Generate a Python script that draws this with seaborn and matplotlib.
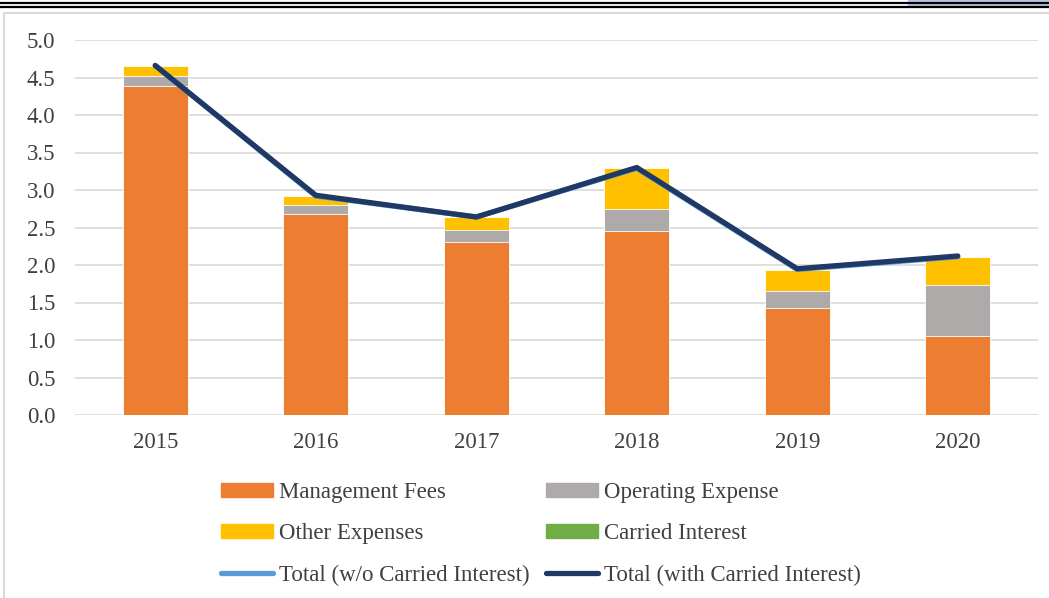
import numpy as np
import pandas as pd
import matplotlib
matplotlib.use("Agg")
import matplotlib.pyplot as plt
from matplotlib.patches import Patch, Rectangle
from matplotlib.lines import Line2D
import seaborn as sns

years = ["2015", "2016", "2017", "2018", "2019", "2020"]
mgmt_fees = [4.39, 2.68, 2.31, 2.45, 1.43, 1.06]
operating = [0.13, 0.12, 0.16, 0.29, 0.22, 0.68]
other_exp = [0.14, 0.12, 0.17, 0.55, 0.29, 0.37]
carried = [0.0, 0.0, 0.0, 0.0, 0.0, 0.0]
total_wo = [4.66, 2.92, 2.64, 3.29, 1.94, 2.11]
total_with = [4.66, 2.93, 2.64, 3.30, 1.95, 2.12]

c_mgmt = "#ED7D31"
c_oper = "#AEAAAA"
c_other = "#FFC000"
c_carr = "#70AD47"
c_wo = "#5B9BD5"
c_with = "#1F3864"

sns.set_theme(style="white")
plt.rcParams["font.family"] = ["Liberation Serif", "DejaVu Serif"]

fig = plt.figure(figsize=(10.49, 5.98), dpi=100)
ax = fig.add_axes([75 / 1049, 1 - 415 / 598, (1038 - 75) / 1049, 375 / 598])

df = pd.DataFrame({"year": years, "mgmt": mgmt_fees, "oper": operating,
                   "other": other_exp, "carr": carried})
df["s1"] = df["mgmt"]
df["s2"] = df["s1"] + df["oper"]
df["s3"] = df["s2"] + df["other"]
df["s4"] = df["s3"] + df["carr"]

w = 0.405
for col, colr in [("s4", c_carr), ("s3", c_other), ("s2", c_oper), ("s1", c_mgmt)]:
    sns.barplot(data=df, x="year", y=col, color=colr, width=w, saturation=1,
                edgecolor="white", linewidth=0.6, ax=ax, zorder=2)

xpos = np.arange(len(years))
sns.lineplot(x=xpos, y=total_wo, color=c_wo, linewidth=3.8, ax=ax, zorder=3,
             solid_capstyle="round")
sns.lineplot(x=xpos, y=total_with, color=c_with, linewidth=3.8, ax=ax, zorder=4,
             solid_capstyle="round")

ax.set_ylim(0, 5)
ax.set_xlim(-0.5, 5.5)
ax.set_yticks(np.arange(0, 5.01, 0.5))
ax.set_yticklabels([f"{v:.1f}" for v in np.arange(0, 5.01, 0.5)])
ax.yaxis.grid(True, color="#D9D9D9", linewidth=1.2)
ax.set_axisbelow(True)
for s in ax.spines.values():
    s.set_visible(False)
ax.tick_params(axis="both", length=0, labelsize=16.5, colors="#404040")
ax.tick_params(axis="y", pad=14)
ax.tick_params(axis="x", pad=12)
ax.set_xlabel("")
ax.set_ylabel("")

handles = [
    Patch(color=c_mgmt, label="Management Fees"),
    Patch(color=c_other, label="Other Expenses"),
    Line2D([0], [0], color=c_wo, lw=3.8, solid_capstyle="round", label="Total (w/o Carried Interest)"),
    Patch(color=c_oper, label="Operating Expense"),
    Patch(color=c_carr, label="Carried Interest"),
    Line2D([0], [0], color=c_with, lw=3.8, solid_capstyle="round", label="Total (with Carried Interest)"),
]
leg = fig.legend(handles=handles, loc="center", bbox_to_anchor=(541 / 1049, 1 - 534 / 598),
                 ncol=2, frameon=False, fontsize=16.5, handlelength=2.25, handleheight=0.55,
                 handletextpad=0.25, columnspacing=0.75, labelspacing=0.88)
for t in leg.get_texts():
    t.set_color("#404040")

# frame and top border
fig.add_artist(Line2D([4 / 1049, 4 / 1049], [0, 1 - 13 / 598], color="#D9D9D9", lw=1.5,
                      transform=fig.transFigure))
fig.add_artist(Line2D([4 / 1049, 1], [1 - 13 / 598, 1 - 13 / 598], color="#D9D9D9", lw=1.5,
                      transform=fig.transFigure))
fig.add_artist(Rectangle((908 / 1049, 1 - 6 / 598), 141 / 1049, 6 / 598, color="#B4C6E7",
                         transform=fig.transFigure))
fig.add_artist(Line2D([0, 1], [1 - 2.5 / 598, 1 - 2.5 / 598], color="black", lw=1.6,
                      transform=fig.transFigure))
fig.add_artist(Line2D([0, 1], [1 - 6.5 / 598, 1 - 6.5 / 598], color="black", lw=1.6,
                      transform=fig.transFigure))

fig.savefig("out.png", dpi=100)
